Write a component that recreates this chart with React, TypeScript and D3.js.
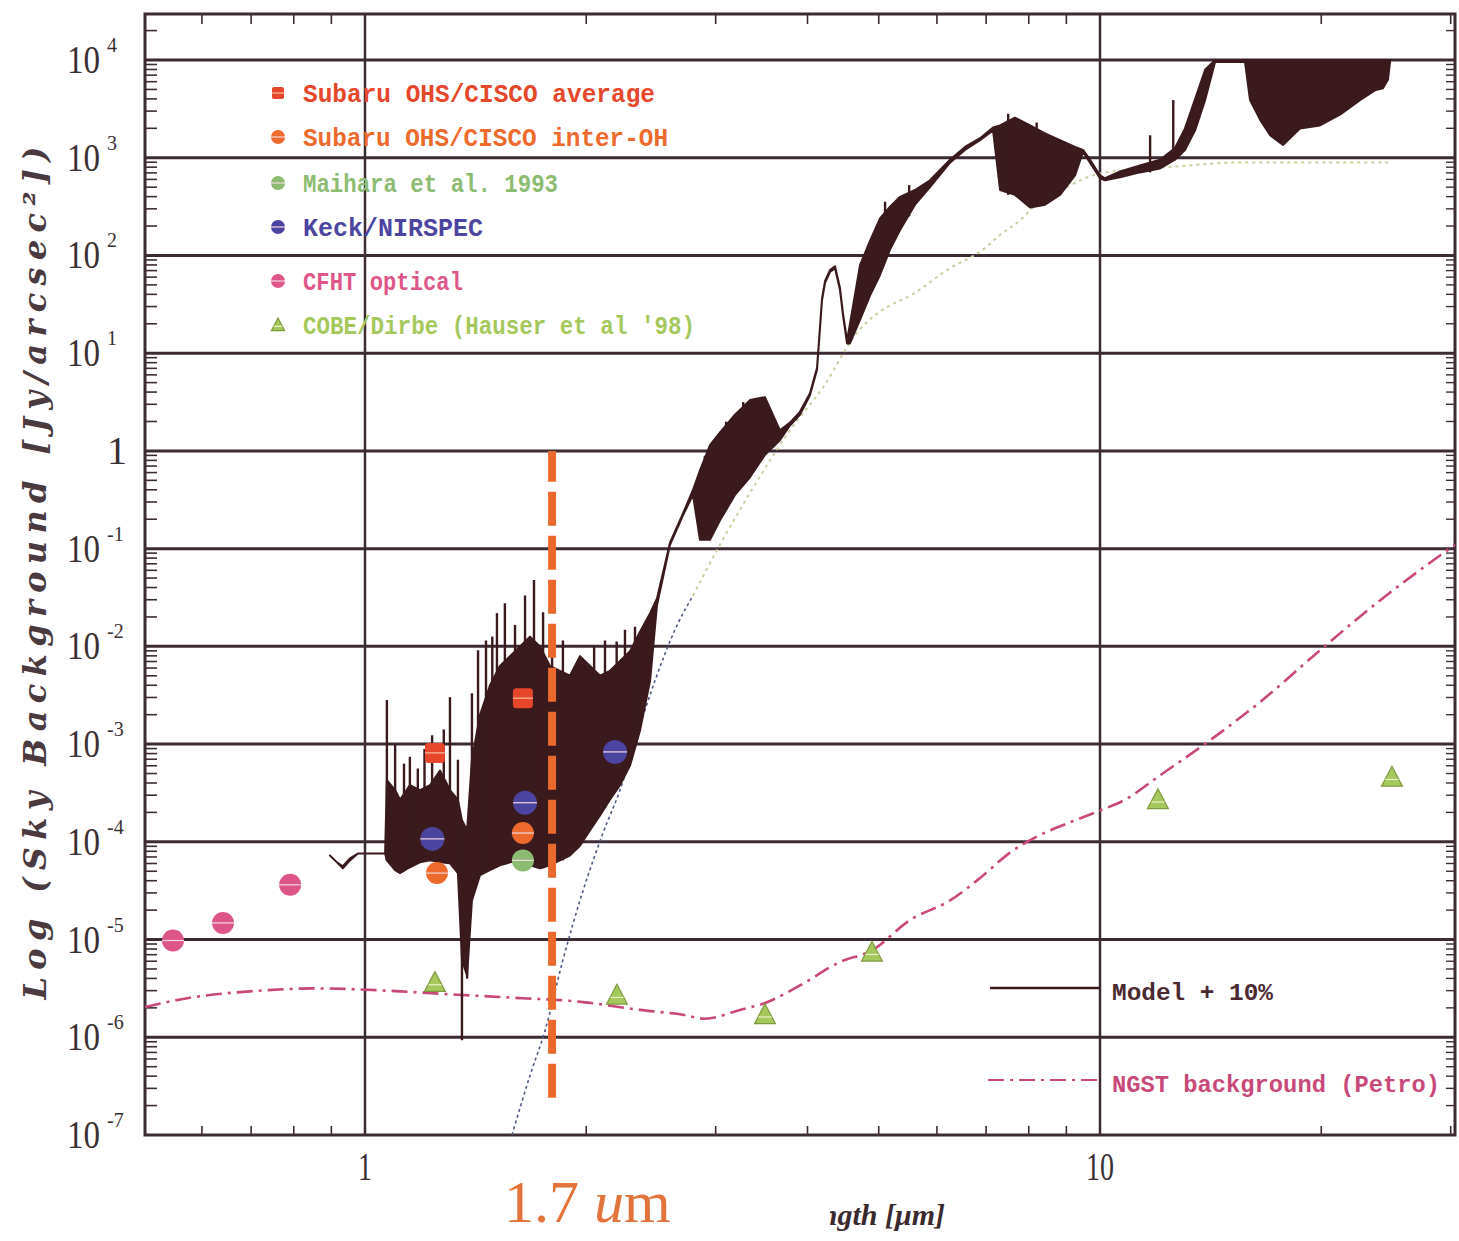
import React from 'react';
import * as d3 from 'd3';

// ---------------- DATA ----------------
// y values are log10 of sky background [Jy/arcsec^2]; x values are wavelength [μm]
const yTickExponents = [-7, -6, -5, -4, -3, -2, -1, 0, 1, 2, 3, 4];
const yTickBase = ['10', '10', '10', '10', '10', '10', '10', '1', '10', '10', '10', '10'];
const yTickExp = ['-7', '-6', '-5', '-4', '-3', '-2', '-1', '', '1', '2', '3', '4'];
const xMajorTicks = [1, 10];
const xTickLabels = ['1', '10'];

// Model + 10%: [wavelength, log lower envelope, log upper envelope]
const modelEnvelope: [number, number, number][] = [
  [0.896, -4.14, -4.14], [0.916, -4.21, -4.21], [0.933, -4.27, -4.25], [0.954, -4.19, -4.17],
  [0.978, -4.12, -4.12], [1.065, -4.12, -4.12], [1.071, -4.19, -3.37], [1.099, -4.29, -3.47],
  [1.116, -4.32, -3.57], [1.151, -4.26, -3.42], [1.188, -4.21, -3.47], [1.226, -4.19, -3.42],
  [1.265, -4.21, -3.27], [1.305, -4.22, -3.47], [1.338, -4.32, -3.57], [1.355, -5.21, -3.78],
  [1.377, -5.37, -3.88], [1.398, -4.6, -3.16], [1.434, -4.34, -2.7], [1.479, -4.29, -2.4],
  [1.526, -4.24, -2.2], [1.575, -4.21, -2.1], [1.625, -4.19, -2.0], [1.677, -4.24, -1.9],
  [1.73, -4.27, -2.0], [1.785, -4.24, -2.2], [1.842, -4.19, -2.25], [1.9, -4.14, -2.3],
  [1.961, -4.04, -2.1], [2.024, -3.88, -2.2], [2.088, -3.73, -2.3], [2.154, -3.57, -2.25],
  [2.223, -3.42, -2.15], [2.294, -3.22, -2.05], [2.367, -2.86, -1.85], [2.443, -2.35, -1.66],
  [2.496, -1.58, -1.51], [2.6, -0.96, -0.94], [2.708, -0.66, -0.64], [2.794, -0.45, -0.4],
  [2.856, -0.91, -0.2], [2.947, -0.91, 0.06], [3.041, -0.71, 0.19], [3.187, -0.45, 0.37],
  [3.34, -0.27, 0.52], [3.501, -0.04, 0.55], [3.669, 0.11, 0.21], [3.786, 0.26, 0.29],
  [3.906, 0.37, 0.4], [4.031, 0.57, 0.59], [4.121, 0.83, 0.85], [4.186, 1.54, 1.56],
  [4.226, 1.72, 1.74], [4.292, 1.83, 1.85], [4.36, 1.87, 1.89], [4.428, 1.65, 1.67],
  [4.47, 1.39, 1.41], [4.527, 1.1, 1.13], [4.569, 1.1, 1.3], [4.715, 1.34, 1.9],
  [4.865, 1.59, 2.15], [5.02, 1.8, 2.38], [5.18, 2.06, 2.5], [5.345, 2.26, 2.6],
  [5.602, 2.52, 2.67], [5.871, 2.7, 2.77], [6.251, 2.95, 2.98], [6.551, 3.08, 3.11],
  [6.868, 3.18, 3.2], [7.153, 3.28, 3.31], [7.312, 2.67, 3.33], [7.66, 2.62, 3.41],
  [8.033, 2.49, 3.33], [8.419, 2.52, 3.25], [8.823, 2.62, 3.18], [9.247, 2.82, 3.11],
  [9.482, 3.06, 3.08], [9.692, 2.95, 2.98], [10.0, 2.79, 2.82], [10.16, 2.77, 2.79],
  [10.65, 2.8, 2.86], [11.33, 2.85, 2.92], [12.07, 2.89, 2.98], [12.65, 2.98, 3.1],
  [13.05, 3.08, 3.3], [13.47, 3.28, 3.6], [13.9, 3.59, 3.9], [14.34, 3.98, 4.0],
  [15.75, 3.98, 4.0], [16.0, 3.59, 4.0], [16.51, 3.39, 4.0], [17.04, 3.23, 4.0],
  [17.74, 3.13, 4.0], [18.71, 3.3, 4.0], [19.92, 3.33, 4.0], [21.21, 3.44, 4.0],
  [22.58, 3.59, 4.0], [23.66, 3.69, 4.0], [24.27, 3.71, 4.0], [24.65, 3.8, 4.0],
  [24.81, 3.98, 4.0],
];

// Individual emission / absorption lines: [wavelength, log low, log high]
const modelLines: [number, number, number][] = [
  [1.071, -4.19, -2.55], [1.099, -4.29, -3.0], [1.13, -4.3, -3.2], [1.151, -4.26, -3.13],
  [1.18, -4.21, -3.25], [1.205, -4.2, -3.05], [1.234, -4.19, -2.91], [1.28, -4.21, -2.85],
  [1.305, -4.22, -2.52], [1.338, -4.32, -3.16], [1.355, -6.03, -4.3], [1.377, -5.4, -4.3],
  [1.398, -4.6, -2.48], [1.425, -4.34, -2.04], [1.461, -4.3, -1.94], [1.49, -4.28, -1.9],
  [1.512, -4.25, -1.66], [1.55, -4.22, -1.56], [1.6, -4.2, -1.78], [1.651, -4.2, -1.48],
  [1.698, -4.25, -1.32], [1.747, -4.27, -1.65], [1.797, -4.24, -1.81], [1.859, -4.19, -1.94],
  [1.949, -4.05, -2.19], [2.05, -3.8, -2.0], [2.121, -3.65, -1.94], [2.2, -3.45, -1.95],
  [2.258, -3.3, -1.83], [2.33, -3.0, -1.8], [2.9, -0.91, -0.05], [3.1, -0.6, 0.3],
  [3.27, -0.35, 0.5], [5.1, 1.95, 2.55], [5.5, 2.4, 2.72], [7.5, 2.62, 3.45],
  [8.2, 2.5, 3.36], [11.7, 2.85, 3.23], [12.58, 2.98, 3.59],
];

// Smooth model continuum (dotted): near-IR part and thermal part
const continuumNear: [number, number][] = [
  [1.585, -7.0], [1.677, -6.39], [1.758, -5.93], [1.859, -5.21], [1.98, -4.5], [2.108, -3.91],
  [2.223, -3.47], [2.344, -2.91], [2.481, -2.35], [2.641, -1.83], [2.794, -1.48],
];
const continuumThermal: [number, number][] = [
  [2.794, -1.48], [3.041, -0.96], [3.34, -0.43], [3.786, 0.21], [4.199, 0.65], [4.671, 1.21],
  [5.18, 1.49], [5.463, 1.57], [6.251, 1.87], [6.932, 2.06], [7.312, 2.21], [7.785, 2.36],
  [8.106, 2.49], [9.018, 2.7], [10.0, 2.84], [11.7, 2.89], [13.13, 2.92], [15.17, 2.95], [24.81, 2.95],
];

// NGST background (Petro)
const ngstBackground: [number, number][] = [
  [0.502, -5.69], [0.573, -5.6], [0.697, -5.53], [0.86, -5.5], [1.116, -5.53], [1.305, -5.56],
  [1.541, -5.59], [1.98, -5.64], [2.367, -5.72], [2.708, -5.77], [2.901, -5.81], [3.237, -5.72],
  [3.501, -5.65], [3.906, -5.47], [4.428, -5.23], [4.895, -5.11], [5.515, -4.8], [6.251, -4.6],
  [6.868, -4.37], [7.545, -4.11], [8.289, -3.93], [9.104, -3.8], [10.0, -3.68], [10.81, -3.57],
  [12.07, -3.32], [14.12, -2.96], [16.51, -2.57], [19.92, -2.04], [24.04, -1.53], [29.01, -1.07],
  [30.41, -0.96],
];

const subaruAverage: [number, number][] = [[1.245, -3.09], [1.64, -2.53]];
const subaruInterOH: [number, number][] = [[1.253, -4.32], [1.64, -3.91]];
const maihara1993: [number, number][] = [[1.64, -4.19]];
const keckNirspec: [number, number][] = [[1.235, -3.97], [1.651, -3.6], [2.189, -3.08]];
const cfhtOptical: [number, number][] = [[0.548, -5.01], [0.641, -4.83], [0.791, -4.44]];
const cobeDirbe: [number, number][] = [
  [1.245, -5.44], [2.202, -5.57], [3.501, -5.77], [4.895, -5.13], [11.99, -3.57], [24.96, -3.34],
];

const markerWavelength = 1.797;
const markerRange: [number, number] = [-6.62, 0];
const markerLabel = '1.7 ';

const legendLabels = [
  'Subaru OHS/CISCO average',
  'Subaru OHS/CISCO inter-OH',
  'Maihara et al. 1993',
  'Keck/NIRSPEC',
  'CFHT optical',
  "COBE/Dirbe (Hauser et al '98)",
];
const lineLegendLabels = ['Model + 10%', 'NGST background (Petro)'];

// ---------------- STYLE ----------------
const C = {
  grid: '#3d2b34',
  model: '#3a1a1d',
  subaruAvg: '#e6472b',
  subaruInter: '#ee6a2c',
  maihara: '#8cbc72',
  keck: '#4b44a0',
  cfht: '#de5689',
  cobe: '#a5c85c',
  ngst: '#c9487a',
  orange: '#ea6a2e',
  tick: '#3a3034',
};

type Kind = 'square' | 'circle' | 'triangle';

function Marker({ kind, cx, cy, r, color }: { kind: Kind; cx: number; cy: number; r: number; color: string }) {
  if (kind === 'square') {
    return (
      <g>
        <rect x={cx - r} y={cy - r} width={2 * r} height={2 * r} rx={r * 0.35} fill={color} />
        <line x1={cx - r} x2={cx + r} y1={cy} y2={cy} stroke="#f6c0a0" strokeWidth={1.2} />
      </g>
    );
  }
  if (kind === 'triangle') {
    const p = `M${cx},${cy - r} L${cx + r * 0.95},${cy + r * 0.8} L${cx - r * 0.95},${cy + r * 0.8} Z`;
    return (
      <g>
        <path d={p} fill={color} stroke="#7f9a3e" strokeWidth={1.2} />
        <line x1={cx - r * 0.6} x2={cx + r * 0.6} y1={cy + r * 0.2} y2={cy + r * 0.2} stroke="#e9f2c8" strokeWidth={1.2} />
      </g>
    );
  }
  return (
    <g>
      <circle cx={cx} cy={cy} r={r} fill={color} />
      <line x1={cx - r} x2={cx + r} y1={cy} y2={cy} stroke="#f4d8e0" strokeWidth={1.2} />
    </g>
  );
}

export default function App() {
  const left = 145, right = 1455, top = 14, bottom = 1135;
  const x = d3.scaleLog().domain([Math.pow(10, -0.2993), Math.pow(10, 1.483)]).range([left, right]);
  const y = d3.scaleLinear().domain([-7, 4.4708]).range([bottom, top]);

  const yMinor: number[] = [];
  yTickExponents.forEach((n) => {
    for (let k = 2; k <= 9; k++) {
      const v = n + Math.log10(k);
      if (v < 4.4708) yMinor.push(v);
    }
  });
  const xMinor: number[] = [];
  [-1, 0, 1].forEach((d) => {
    for (let k = 2; k <= 9; k++) {
      const v = k * Math.pow(10, d);
      if (v > x.domain()[0] && v < x.domain()[1] && !xMajorTicks.includes(v)) xMinor.push(v);
    }
  });
  const area = d3
    .area<[number, number, number]>()
    .x((d) => x(d[0]))
    .y0((d) => y(d[1]))
    .y1((d) => y(d[2]));
  const line2 = d3
    .line<[number, number]>()
    .x((d) => x(d[0]))
    .y((d) => y(d[1]))
    .curve(d3.curveMonotoneX);

  const legendColors = [C.subaruAvg, C.subaruInter, C.maihara, C.keck, C.cfht, C.cobe];
  const legendKinds: Kind[] = ['square', 'circle', 'circle', 'circle', 'circle', 'triangle'];
  const legendY = [93, 137, 183, 227, 281, 325];
  const legendW = [352, 365, 255, 180, 160, 392];

  const serif = '"Liberation Serif", "DejaVu Serif", serif';
  const mono = '"Liberation Mono", "DejaVu Sans Mono", monospace';

  return (
    <svg width={1459} height={1241} style={{ position: 'absolute', left: 0, top: 0, background: '#fff' }}>
      <rect x={0} y={0} width={1459} height={1241} fill="#fff" />

      {/* grid */}
      {yTickExponents.filter((n) => n > -7).map((n) => (
        <line key={'gy' + n} x1={left} x2={right} y1={y(n)} y2={y(n)} stroke={C.grid} strokeWidth={3} />
      ))}
      {xMajorTicks.map((v) => (
        <line key={'gx' + v} x1={x(v)} x2={x(v)} y1={top} y2={bottom} stroke={C.grid} strokeWidth={2.5} />
      ))}
      {/* minor ticks */}
      {yMinor.map((v, i) => (
        <g key={'ym' + i}>
          <line x1={left} x2={left + 12} y1={y(v)} y2={y(v)} stroke={C.grid} strokeWidth={1.6} />
          <line x1={right} x2={right - 9} y1={y(v)} y2={y(v)} stroke={C.grid} strokeWidth={1.4} />
        </g>
      ))}
      {xMinor.map((v, i) => (
        <g key={'xm' + i}>
          <line x1={x(v)} x2={x(v)} y1={top} y2={top + 10} stroke={C.grid} strokeWidth={1.6} />
          <line x1={x(v)} x2={x(v)} y1={bottom} y2={bottom - 9} stroke={C.grid} strokeWidth={1.6} />
        </g>
      ))}
      <rect x={left} y={top} width={right - left} height={bottom - top} fill="none" stroke={C.grid} strokeWidth={3} />

      {/* NGST background */}
      <path d={line2(ngstBackground) || ''} fill="none" stroke={C.ngst} strokeWidth={2.6} strokeDasharray="16,6,3,6" />

      {/* model continuum */}
      <path d={line2(continuumThermal) || ''} fill="none" stroke="#c9cf9c" strokeWidth={2} strokeDasharray="3,4" />
      <path d={line2(continuumNear) || ''} fill="none" stroke="#4d5a86" strokeWidth={1.6} strokeDasharray="3,3" />

      {/* model spectrum */}
      <path d={area(modelEnvelope) || ''} fill={C.model} stroke={C.model} strokeWidth={2} strokeLinejoin="round" />
      {modelLines.map((d, i) => (
        <line key={'ml' + i} x1={x(d[0])} x2={x(d[0])} y1={y(d[1])} y2={y(d[2])} stroke={C.model} strokeWidth={2.4} />
      ))}

      {/* 1.7 um marker */}
      <line
        x1={x(markerWavelength)} x2={x(markerWavelength)} y1={y(markerRange[0])} y2={y(markerRange[1])}
        stroke={C.orange} strokeWidth={8} strokeDasharray="34,10"
      />

      {/* data points */}
      {cobeDirbe.map((d, i) => <Marker key={'cb' + i} kind="triangle" cx={x(d[0])} cy={y(d[1])} r={11} color={C.cobe} />)}
      {cfhtOptical.map((d, i) => <Marker key={'cf' + i} kind="circle" cx={x(d[0])} cy={y(d[1])} r={11} color={C.cfht} />)}
      {maihara1993.map((d, i) => <Marker key={'mh' + i} kind="circle" cx={x(d[0])} cy={y(d[1])} r={11} color={C.maihara} />)}
      {keckNirspec.map((d, i) => <Marker key={'kk' + i} kind="circle" cx={x(d[0])} cy={y(d[1])} r={12} color={C.keck} />)}
      {subaruInterOH.map((d, i) => <Marker key={'si' + i} kind="circle" cx={x(d[0])} cy={y(d[1])} r={11} color={C.subaruInter} />)}
      {subaruAverage.map((d, i) => <Marker key={'sa' + i} kind="square" cx={x(d[0])} cy={y(d[1])} r={10} color={C.subaruAvg} />)}

      {/* y tick labels */}
      {yTickExponents.map((n, i) =>
        yTickExp[i] === '' ? (
          <text key={'yl' + n} x={117} y={y(n) + 13} fontFamily={serif} fontSize={40} fill={C.tick} textAnchor="middle">
            {yTickBase[i]}
          </text>
        ) : (
          <g key={'yl' + n}>
            <text x={67} y={y(n) + 13} fontFamily={serif} fontSize={40} fill={C.tick} textLength={33} lengthAdjust="spacingAndGlyphs">
              {yTickBase[i]}
            </text>
            <text x={107} y={y(n) - 8} fontFamily={serif} fontSize={20} fill={C.tick}>
              {yTickExp[i]}
            </text>
          </g>
        )
      )}
      {/* x tick labels */}
      {xMajorTicks.map((v, i) => (
        <text key={'xl' + v} x={x(v)} y={1180} fontFamily={serif} fontSize={40} fill={C.tick} textAnchor="middle"
          textLength={xTickLabels[i].length * 14} lengthAdjust="spacingAndGlyphs">
          {xTickLabels[i]}
        </text>
      ))}

      {/* axis titles */}
      <text
        transform="translate(46,573) rotate(-90)" textAnchor="middle" fontFamily='"DejaVu Serif", serif'
        fontStyle="italic" fontWeight="bold" fontSize={32} fill="#4a3a3f" textLength={853} lengthAdjust="spacing"
      >
        Log (Sky Background [Jy/arcsec²])
      </text>
      <text x={945} y={1225} textAnchor="end" fontFamily={serif} fontStyle="italic" fontWeight="bold" fontSize={30} fill="#3a2a2e">
        Wavelength [μm]
      </text>
      <rect x={470} y={1188} width={360} height={53} fill="#fff" />
      <text x={504} y={1222} fontFamily={serif} fontSize={60} fill="#e2733a">
        {markerLabel}
        <tspan fontStyle="italic">u</tspan>m
      </text>

      {/* legend top-left */}
      {legendLabels.map((lab, i) => (
        <g key={'lg' + i}>
          <Marker kind={legendKinds[i]} cx={278} cy={legendY[i]} r={legendKinds[i] === 'square' ? 6 : 7} color={legendColors[i]} />
          <text x={303} y={legendY[i] + 9} fontFamily={mono} fontWeight="bold" fontSize={25} fill={legendColors[i]}
            textLength={legendW[i]} lengthAdjust="spacingAndGlyphs">
            {lab}
          </text>
        </g>
      ))}

      {/* legend bottom-right */}
      <line x1={990} x2={1100} y1={988} y2={988} stroke={C.model} strokeWidth={2.5} />
      <text x={1112} y={1000} fontFamily={mono} fontWeight="bold" fontSize={24} fill="#4a2a30" textLength={161} lengthAdjust="spacingAndGlyphs">
        {lineLegendLabels[0]}
      </text>
      <line x1={988} x2={1100} y1={1080} y2={1080} stroke={C.ngst} strokeWidth={2.2} strokeDasharray="16,6,3,6" />
      <text x={1112} y={1092} fontFamily={mono} fontWeight="bold" fontSize={24} fill={C.ngst} textLength={328} lengthAdjust="spacingAndGlyphs">
        {lineLegendLabels[1]}
      </text>
    </svg>
  );
}
